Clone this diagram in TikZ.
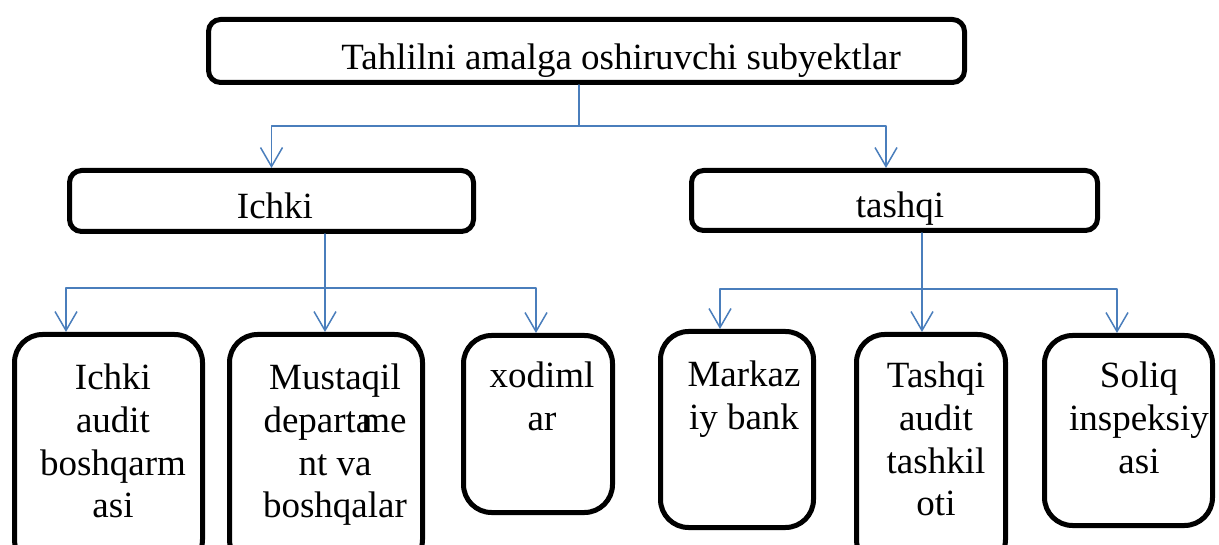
\documentclass[tikz,border=0pt]{standalone}
\usepackage{fontspec}
\setmainfont{Liberation Serif}
\usetikzlibrary{arrows.meta}
\definecolor{linkblue}{RGB}{74,126,188}
\tikzset{
  box/.style={draw, line width=5pt, rounded corners=12pt, inner sep=0pt},
  leafbox/.style={box, rounded corners=28pt},
  txt/.style={font=\fontsize{37}{42.7}\selectfont, inner sep=0pt, align=center},
  conn/.style={draw=linkblue, line width=1.5pt},
  arr/.style={conn, -{Straight Barb[length=19pt,width=22pt]}}
}
\begin{document}
\begin{tikzpicture}[line cap=round,line join=round,x=1pt,y=-1pt]
				\clip (0,0) rectangle (1219,545);
				% Etage 1
				\node[box, minimum width=756, minimum height=63] (top) at (586.5,51) {};
				\node[txt, anchor=base] (ttop) at (621,70) {Tahlilni amalga oshiruvchi subyektlar};
				%Etage 2
				\node[box, minimum width=404, minimum height=61] (ichki) at (271.5,201) {};
				\node[txt, anchor=base] (tichki) at (275,219) {Ichki};
				\node[box, minimum width=406, minimum height=60] (tashqi) at (894.5,200.5) {};
				\node[txt, anchor=base] (ttashqi) at (900,218) {tashqi};
				%Etage 3
				\node[leafbox, minimum width=188, minimum height=233] (b1) at (108.5,451) {};
				\node[leafbox, minimum width=193, minimum height=233] (b2) at (326,451) {};
				\node[leafbox, minimum width=149, minimum height=177] (b3) at (538,424) {};
				\node[leafbox, minimum width=153, minimum height=196] (b4) at (737,429.5) {};
				\node[leafbox, minimum width=149, minimum height=233] (b5) at (931,451) {};
				\node[leafbox, minimum width=168, minimum height=190] (b6) at (1128.5,430.5) {};
				\node[txt, anchor=north] (tb1) at (113,364) {Ichki\\audit\\boshqarm\\asi};
				\node[txt, anchor=north] (tb2) at (335,364) {Mustaqil\\departa\kern-0.3em me\\nt va\\boshqalar};
				\node[txt, anchor=north] (tb3) at (542,362) {xodiml\\ar};
				\node[txt, anchor=north] (tb4) at (744,361) {Markaz\\iy bank};
				\node[txt, anchor=north] (tb5) at (936,362) {Tashqi\\audit\\tashkil\\oti};
				\node[txt, anchor=north] (tb6) at (1139,362) {Soliq\\inspeksiy\\asi};
				% Strelki
				\coordinate (s0) at (579,126);
				\coordinate (s1) at (325,288);
				\coordinate (s2) at (922,289);
				\draw[conn] ([xshift=-7.5pt]top.south) -- (s0);
				\draw[arr] (s0) -| (ichki.north);
				\draw[arr] (s0) -| ([xshift=-8.5pt]tashqi.north);
				\draw[arr] (ichki.south -| s1) -- ([xshift=-1pt]b2.north);
				\draw[arr] (s1) -| ([xshift=-42.5pt]b1.north);
				\draw[arr] (s1) -| ([xshift=-2pt]b3.north);
				\draw[arr] (tashqi.south -| s2) -- ([xshift=-9pt]b5.north);
				\draw[arr] (s2) -| ([xshift=-17pt]b4.north);
				\draw[arr] (s2) -| ([xshift=-11.5pt]b6.north);
		\end{tikzpicture}
\end{document}
